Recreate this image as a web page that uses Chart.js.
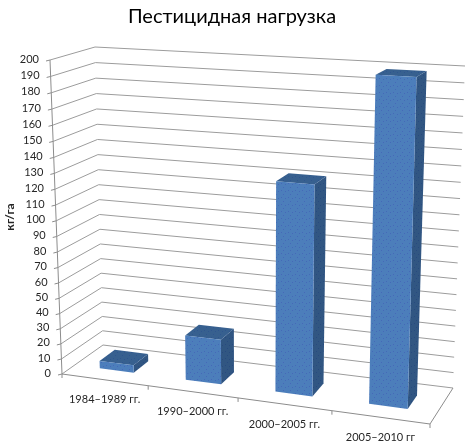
<!DOCTYPE html>
<html>
<head>
<meta charset="utf-8">
<style>
html, body { margin: 0; padding: 0; background: #fff; }
</style>
<script src="https://cdn.jsdelivr.net/npm/chart.js@4"></script>
</head>
<body>
<canvas id="myChart" width="470" height="445"></canvas>
<script>
const categories = ['1984–1989 гг.', '1990–2000 гг.', '2000–2005 гг.', '2005–2010 гг'];
const pesticide = [5, 29, 132, 199];
const chartTitle = 'Пестицидная нагрузка';
const yTitle = 'кг/га';

// corners of the 3d box on screen: x left/right, y bottom/top, front/back
const box = {
    flb: [62, 374], flt: [50, 60], blb: [103, 345], blt: [95, 47],
    frb: [430, 424], frt: [440, 82], brb: [453, 388], brt: [465, 66]
};
const warpX = 1.09;
const warpY = 1.05;
const barFront = 0.31;
const barBack = 0.69;
const fontName = 'Lato, "Open Sans", sans-serif';

function warp(u, k) {
    return u / (u + k * (1 - u));
}

function mix(a, b, t) {
    return [a[0] + (b[0] - a[0]) * t, a[1] + (b[1] - a[1]) * t];
}

// u along categories, v along values, z from front to back
function project(u, v, z) {
    const a = warp(u, warpX);
    const b = warp(v, warpY);
    const front = mix(mix(box.flb, box.frb, a), mix(box.flt, box.frt, a), b);
    const back = mix(mix(box.blb, box.brb, a), mix(box.blt, box.brt, a), b);
    return mix(front, back, z);
}

// the reference faces have a fine dither on them
function dither(ctx, base, dots) {
    const tile = document.createElement('canvas');
    tile.width = 7;
    tile.height = 7;
    const t = tile.getContext('2d');
    t.fillStyle = base;
    t.fillRect(0, 0, 7, 7);
    t.fillStyle = dots;
    t.fillRect(1, 1, 1, 1);
    t.fillRect(5, 2, 1, 1);
    t.fillRect(3, 5, 1, 1);
    return ctx.createPattern(tile, 'repeat');
}

function poly(ctx, pts, fill) {
    ctx.beginPath();
    pts.forEach((p, i) => {
        if (i === 0) ctx.moveTo(p[0], p[1]);
        else ctx.lineTo(p[0], p[1]);
    });
    ctx.closePath();
    ctx.fillStyle = fill;
    ctx.fill();
}

function line(ctx, pts, color) {
    ctx.beginPath();
    pts.forEach((p, i) => {
        if (i === 0) ctx.moveTo(p[0], p[1]);
        else ctx.lineTo(p[0], p[1]);
    });
    ctx.strokeStyle = color;
    ctx.lineWidth = 1;
    ctx.stroke();
}

const box3d = {
    id: 'box3d',
    beforeDatasetsDraw(chart) {
        const ctx = chart.ctx;
        const area = chart.chartArea;
        const sx = chart.scales.x;
        const sy = chart.scales.y;
        const toU = (px) => (px - area.left) / (area.right - area.left);
        const toV = (py) => (area.bottom - py) / (area.bottom - area.top);
        const gridColor = '#9c9c9c';

        ctx.save();
        // walls
        sy.ticks.forEach((tick) => {
            const v = toV(sy.getPixelForValue(tick.value));
            line(ctx, [project(0, v, 0), project(0, v, 1), project(1, v, 1)], gridColor);
            const p = project(0, v, 0);
            line(ctx, [[p[0] - 4, p[1] + 1], p], '#8c8c8c');
            ctx.fillStyle = '#262626';
            ctx.font = '11px ' + fontName;
            ctx.textAlign = 'right';
            ctx.textBaseline = 'middle';
            ctx.fillText(tick.label, p[0] - 11, p[1] - 1);
        });
        // axes
        line(ctx, [project(0, 1, 0), project(0, 0, 0), project(1, 0, 0), project(1, 0, 1)], '#8c8c8c');
        const edges = categories.map((c, i) => i).concat(categories.length);
        edges.forEach((i) => {
            const px = i < categories.length
                ? sx.getPixelForValue(i) - (sx.getPixelForValue(1) - sx.getPixelForValue(0)) / 2
                : area.right;
            const p = project(toU(px), 0, 0);
            line(ctx, [p, [p[0], p[1] + 4]], '#8c8c8c');
        });
        // category labels
        ctx.fillStyle = '#262626';
        ctx.font = '11px ' + fontName;
        ctx.textAlign = 'center';
        ctx.textBaseline = 'middle';
        sx.getLabels().forEach((label, i) => {
            const p = project(toU(sx.getPixelForValue(i)), 0, 0);
            ctx.fillText(label, p[0], p[1] + 20);
        });
        // value title
        ctx.save();
        ctx.translate(10, 217);
        ctx.rotate(-Math.PI / 2);
        ctx.font = 'bold 12px ' + fontName;
        ctx.fillText(yTitle, 0, 0);
        ctx.restore();

        // bars from the library's bar elements
        const ds = chart.data.datasets[0];
        const frontFill = dither(ctx, ds.backgroundColor, '#4569b8');
        const topFill = dither(ctx, ds.topColor, '#2f5590');
        const sideFill = dither(ctx, ds.sideColor, '#284a80');
        chart.getDatasetMeta(0).data.forEach((bar) => {
            const u0 = toU(bar.x - bar.width / 2);
            const u1 = toU(bar.x + bar.width / 2);
            const top = toV(bar.y);
            const low = toV(bar.base);
            const fbl = project(u0, low, barFront);
            const fbr = project(u1, low, barFront);
            const ftl = project(u0, top, barFront);
            const ftr = project(u1, top, barFront);
            const bbr = project(u1, low, barBack);
            const btl = project(u0, top, barBack);
            const btr = project(u1, top, barBack);
            poly(ctx, [fbr, bbr, btr, ftr], sideFill);
            poly(ctx, [ftl, ftr, btr, btl], topFill);
            poly(ctx, [fbl, fbr, ftr, ftl], frontFill);
        });
        ctx.restore();
        return false;
    }
};

new Chart(document.getElementById('myChart'), {
    type: 'bar',
    data: {
        labels: categories,
        datasets: [{
            label: yTitle,
            data: pesticide,
            backgroundColor: '#4c7ebb',
            topColor: '#37608f',
            sideColor: '#315682',
            barPercentage: 0.4,
            categoryPercentage: 1
        }]
    },
    options: {
        responsive: false,
        animation: false,
        layout: { padding: { right: 6 } },
        plugins: {
            legend: { display: false },
            tooltip: { enabled: false },
            title: {
                display: true,
                text: chartTitle,
                color: '#000',
                font: { family: fontName, size: 20, weight: 'normal' },
                padding: { top: 5, bottom: 8 }
            }
        },
        scales: {
            x: { display: false },
            y: { display: false, min: 0, max: 200, ticks: { stepSize: 10 } }
        }
    },
    plugins: [box3d]
});
</script>
</body>
</html>
